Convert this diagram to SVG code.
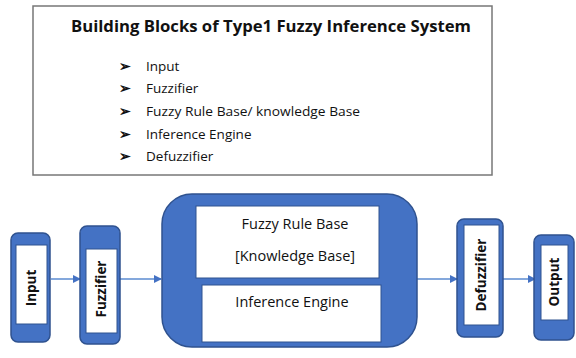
<svg xmlns="http://www.w3.org/2000/svg" width="576" height="358" viewBox="0 0 576 358">
<style>
.t{font-family:"Open Sans","Liberation Sans",sans-serif;fill:#111}
.b{font-weight:bold}
.blue{fill:#4472C4;stroke:#2F528F;stroke-width:1.5}
.w{fill:#fff;stroke:#2F528F;stroke-width:1}
.c{stroke:#5B8BD0;stroke-width:1.5;fill:none}
</style>
<defs>
<marker id="ah" markerWidth="8" markerHeight="8" refX="7" refY="4" orient="auto" markerUnits="userSpaceOnUse">
<path d="M0,0 L8,4 L0,8 Z" fill="#4472C4"/>
</marker>
</defs>
<rect width="576" height="358" fill="#fff"/>
<g id="legend">
<rect x="33" y="6" width="459" height="169" fill="#fff" stroke="#777" stroke-width="1.5"/>
<text class="t b" x="71" y="32" font-size="15.5" textLength="400" lengthAdjust="spacingAndGlyphs">Building Blocks of Type1 Fuzzy Inference System</text>
<g class="t" font-size="13.5" font-weight="500">
<text x="119" y="71" class="b">➢</text><text x="146" y="71">Input</text>
<text x="119" y="93" class="b">➢</text><text x="146" y="93">Fuzzifier</text>
<text x="119" y="116" class="b">➢</text><text x="146" y="116" textLength="214" lengthAdjust="spacingAndGlyphs">Fuzzy Rule Base/ knowledge Base</text>
<text x="119" y="139" class="b">➢</text><text x="146" y="139">Inference Engine</text>
<text x="119" y="161" class="b">➢</text><text x="146" y="161">Defuzzifier</text>
</g>
</g>
<g id="connectors">
<line class="c" x1="51" y1="279" x2="80" y2="279" marker-end="url(#ah)"/>
<line class="c" x1="120" y1="279" x2="161" y2="279" marker-end="url(#ah)"/>
<line class="c" x1="417" y1="279" x2="457" y2="279" marker-end="url(#ah)"/>
<line class="c" x1="503" y1="279" x2="535" y2="279" marker-end="url(#ah)"/>
</g>
<g id="input">
<rect class="blue" x="11" y="233" width="39" height="109" rx="7"/>
<rect class="w" x="16" y="245" width="31" height="79"/>
<text class="t b" font-size="13.5" text-anchor="middle" transform="translate(36,288) rotate(-90)">Input</text>
</g>
<g id="fuzzifier">
<rect class="blue" x="80" y="226" width="40" height="118" rx="7"/>
<rect class="w" x="86" y="249" width="31" height="84"/>
<text class="t b" font-size="13.5" text-anchor="middle" transform="translate(106,289) rotate(-90)">Fuzzifier</text>
</g>
<g id="core">
<rect class="blue" x="162" y="194" width="255" height="153" rx="30"/>
<g id="rulebase">
<rect class="w" x="196" y="206" width="183" height="72"/>
<text class="t" font-size="14.5" font-weight="500" text-anchor="middle" x="295" y="229">Fuzzy Rule Base</text>
<text class="t" font-size="14.5" font-weight="500" text-anchor="middle" x="295" y="261">[Knowledge Base]</text>
</g>
<g id="engine">
<rect class="w" x="202" y="285" width="179" height="57"/>
<text class="t" font-size="14.5" font-weight="500" text-anchor="middle" x="292" y="307">Inference Engine</text>
</g>
</g>
<g id="defuzzifier">
<rect class="blue" x="457" y="219" width="46" height="118" rx="7"/>
<rect class="w" x="464" y="225" width="35" height="100"/>
<text class="t b" font-size="13.5" text-anchor="middle" transform="translate(486,275) rotate(-90)">Defuzzifier</text>
</g>
<g id="output">
<rect class="blue" x="534" y="235" width="40" height="105" rx="7"/>
<rect class="w" x="541" y="245" width="27" height="75"/>
<text class="t b" font-size="13.5" text-anchor="middle" transform="translate(559,282) rotate(-90)">Output</text>
</g>
</svg>
